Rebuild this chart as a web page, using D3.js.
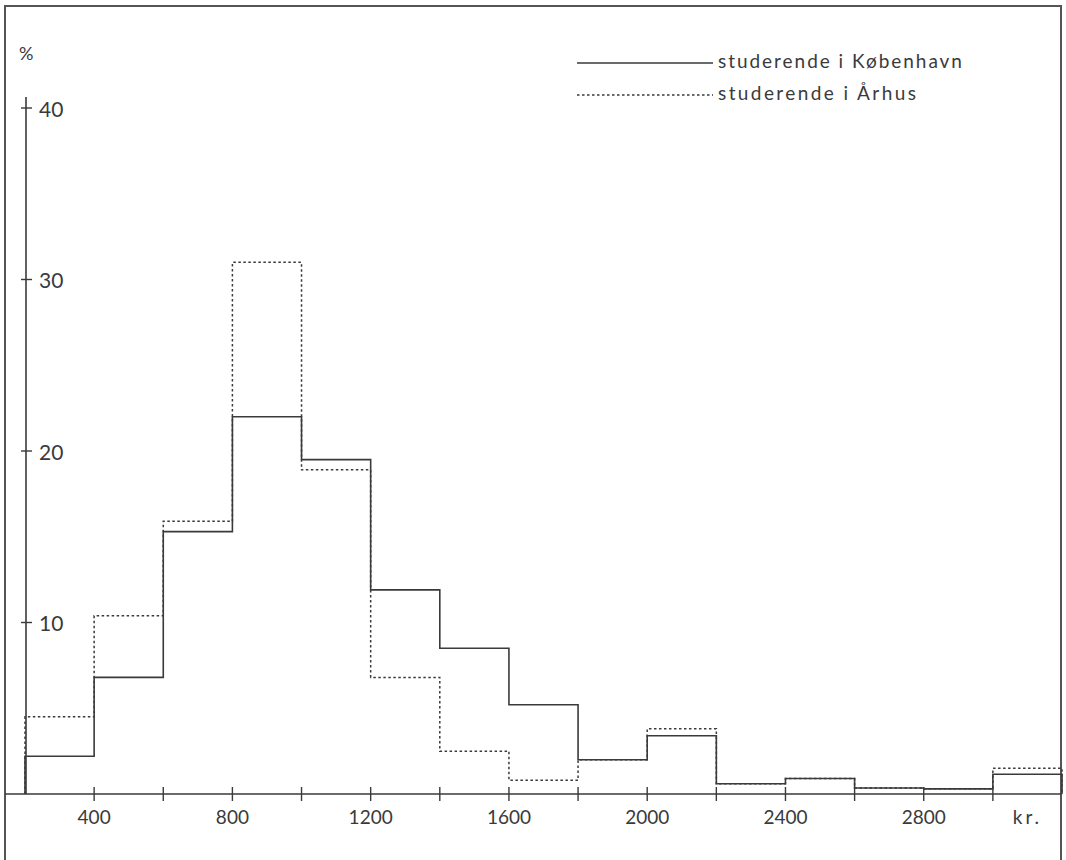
<!DOCTYPE html>
<html>
<head>
<meta charset="utf-8">
<script src="https://cdn.jsdelivr.net/npm/d3@7"></script>
<style>
  html, body { margin: 0; padding: 0; background: #fff; }
  svg { display: block; }
  text { font-family: Lato, "Open Sans", sans-serif; fill: #3a3a3a; }
</style>
</head>
<body>
<script>
// ---- data ----
const binStarts = [200, 400, 600, 800, 1000, 1200, 1400, 1600, 1800, 2000, 2200, 2400, 2600, 2800, 3000];
const binEnd = 3200;
const kobenhavn = [2.2, 6.8, 15.3, 22.0, 19.5, 11.9, 8.5, 5.2, 2.0, 3.4, 0.6, 0.9, 0.35, 0.3, 1.15];
const aarhus    = [4.5, 10.4, 15.9, 31.0, 18.9, 6.8, 2.5, 0.8, 2.0, 3.8, 0.6, 0.9, 0.35, 0.3, 1.5];
const xTickMarks = [400, 600, 800, 1000, 1200, 1400, 1600, 1800, 2000, 2200, 2400, 2600, 2800, 3000];
const xTickLabels = [400, 800, 1200, 1600, 2000, 2400, 2800];
const yTicks = [10, 20, 30, 40];
const seriesNames = ["studerende i København", "studerende i Århus"];
const xUnit = "kr.";
const yUnit = "%";

// ---- layout ----
const W = 1066, H = 860;
const svg = d3.select("body").append("svg").attr("width", W).attr("height", H);

const x = d3.scaleLinear().domain([200, 3200]).range([25, 1062]);
const y = d3.scaleLinear().domain([0, 40]).range([794, 108]);

const ink = "#3a3a3a";

// frame
svg.append("path")
  .attr("d", `M5,${H} L5,6 L1061,6 L1061,${H}`)
  .attr("fill", "none").attr("stroke", "#555").attr("stroke-width", 2);

// x axis line
svg.append("line").attr("x1", 5).attr("x2", 1061).attr("y1", y(0)).attr("y2", y(0))
  .attr("stroke", ink).attr("stroke-width", 1.6);

// y axis line
svg.append("line").attr("x1", x(200) + 1).attr("x2", x(200) + 1).attr("y1", 97).attr("y2", y(0))
  .attr("stroke", ink).attr("stroke-width", 1.6);

// x ticks
const xAxis = svg.append("g");
xAxis.selectAll("line").data(xTickMarks).join("line")
  .attr("x1", d => x(d)).attr("x2", d => x(d))
  .attr("y1", y(0) - 7).attr("y2", y(0) + 7)
  .attr("stroke", ink).attr("stroke-width", 1.4);
xAxis.selectAll("text").data(xTickLabels).join("text")
  .attr("x", d => x(d)).attr("y", 816)
  .attr("text-anchor", "middle").attr("dominant-baseline", "central")
  .attr("font-size", 19).text(d => d);
svg.append("text").attr("x", x(3100)).attr("y", 816)
  .attr("text-anchor", "middle").attr("dominant-baseline", "central")
  .attr("font-size", 19).attr("letter-spacing", 3).text(xUnit);

// y ticks
const yAxis = svg.append("g");
yAxis.selectAll("line").data(yTicks).join("line")
  .attr("x1", x(200) - 4).attr("x2", x(200) + 7)
  .attr("y1", d => y(d)).attr("y2", d => y(d))
  .attr("stroke", ink).attr("stroke-width", 1.4);
yAxis.selectAll("text").data(yTicks).join("text")
  .attr("x", 39).attr("y", d => y(d))
  .attr("dominant-baseline", "central")
  .attr("font-size", 21).text(d => d);
svg.append("text").attr("x", 19).attr("y", 53)
  .attr("dominant-baseline", "central")
  .attr("font-size", 18).text(yUnit);

// histogram step lines
function stepPoints(vals) {
  const pts = [[binStarts[0], 0]];
  binStarts.forEach((s, i) => pts.push([s, vals[i]]));
  pts.push([binEnd, vals[vals.length - 1]]);
  pts.push([binEnd, 0]);
  return pts;
}
const line = d3.line().x(d => x(d[0])).y(d => y(d[1])).curve(d3.curveStepAfter);

svg.append("path").attr("d", line(stepPoints(aarhus)))
  .attr("fill", "none").attr("stroke", ink).attr("stroke-width", 1.5)
  .attr("stroke-dasharray", "2.5,2.5");
svg.append("path").attr("d", line(stepPoints(kobenhavn)))
  .attr("fill", "none").attr("stroke", ink).attr("stroke-width", 1.6);

// legend
const legY = [63, 95];
const leg = svg.append("g");
leg.append("line").attr("x1", 577).attr("x2", 713).attr("y1", legY[0]).attr("y2", legY[0])
  .attr("stroke", ink).attr("stroke-width", 1.5);
leg.append("line").attr("x1", 577).attr("x2", 713).attr("y1", legY[1]).attr("y2", legY[1])
  .attr("stroke", ink).attr("stroke-width", 1.5).attr("stroke-dasharray", "2.5,2.5");
const targetW = [244, 198];
seriesNames.forEach((name, i) => {
  const t = leg.append("text").attr("x", 718).attr("y", legY[i] + 5)
    .attr("font-size", 19).text(name);
  const w = t.node().getComputedTextLength();
  const ls = Math.max(0, (targetW[i] - w) / (name.length - 1));
  t.attr("letter-spacing", ls.toFixed(2));
});
</script>
</body>
</html>
